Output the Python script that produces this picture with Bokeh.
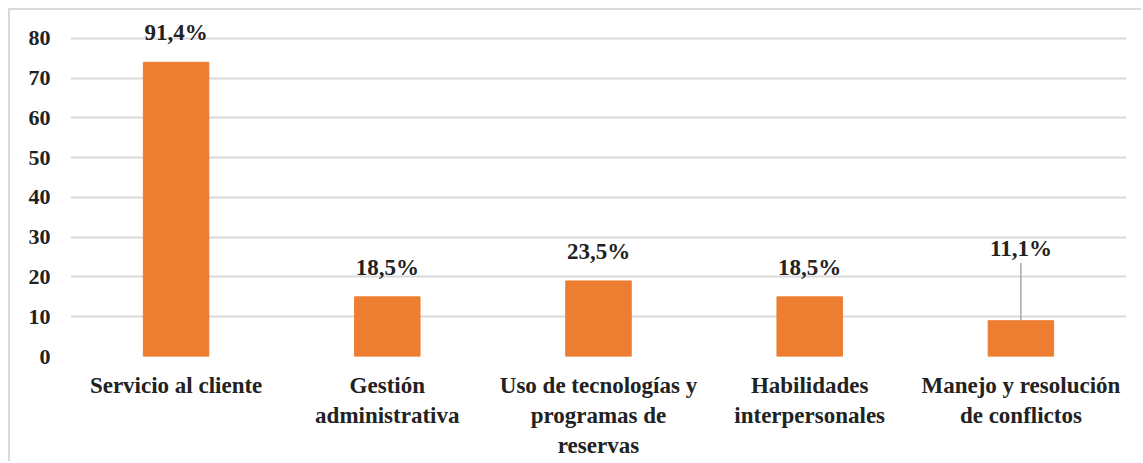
from bokeh.plotting import figure
from bokeh.models import ColumnDataSource, FixedTicker, FactorRange
from bokeh.embed import file_html
from bokeh.resources import INLINE
from bokeh.core.properties import value

categories = ["Servicio al cliente", "Gestión\nadministrativa",
              "Uso de tecnologías y\nprogramas de\nreservas",
              "Habilidades\ninterpersonales", "Manejo y resolución\nde conflictos"]
values = [74, 15, 19, 15, 9]
labels = ["91,4%", "18,5%", "23,5%", "18,5%", "11,1%"]
y_ticks = [0, 10, 20, 30, 40, 50, 60, 70, 80]

FONT = "Liberation Serif"
TXT = "#222222"

label_y = [v + 7.4 for v in values]
label_y[-1] = 27.1  # last label lifted with leader line

src = ColumnDataSource(dict(x=categories, top=values, lab=labels, ly=label_y))

p = figure(width=1133, height=453, output_backend="svg", toolbar_location=None,
           x_range=FactorRange(*categories, range_padding=0), y_range=(0, 83.5),
           min_border_left=60, min_border_right=17, min_border_top=14,
           min_border_bottom=107)
p.styles = {"margin-left": "8px", "margin-top": "8px",
            "border-left": "2px solid #d9d9d9", "border-top": "2px solid #d9d9d9"}
p.outline_line_color = None
p.background_fill_color = "white"
p.border_fill_color = "white"

p.vbar(x="x", top="top", width=0.31, bottom=0, source=src, color="#ED7D31")

# leader line for last label
p.segment(x0=[categories[-1]], y0=[label_y[-1] - 3.6], x1=[categories[-1]], y1=[values[-1]],
          line_color="#a6a6a6", line_width=1.5)

p.text(x="x", y="ly", text="lab", source=src, text_align="center", text_baseline="middle",
       text_font=value(FONT), text_font_style="bold", text_font_size="23px", text_color=TXT)

p.yaxis.ticker = FixedTicker(ticks=y_ticks)
p.ygrid.ticker = FixedTicker(ticks=y_ticks)
p.xgrid.grid_line_color = None
p.ygrid.grid_line_color = "#d9d9d9"
p.ygrid.grid_line_width = 2

for ax in (p.xaxis, p.yaxis):
    ax.axis_line_color = None
    ax.major_tick_line_color = None
    ax.minor_tick_line_color = None
    ax.major_label_text_font = FONT
    ax.major_label_text_font_style = "bold"
    ax.major_label_text_color = TXT
p.yaxis.major_label_text_font_size = "22px"
p.yaxis.major_label_standoff = 14
p.xaxis.major_label_text_font_size = "23px"
p.xaxis.major_label_standoff = 10

open("out.html", "w").write(file_html(p, INLINE))
